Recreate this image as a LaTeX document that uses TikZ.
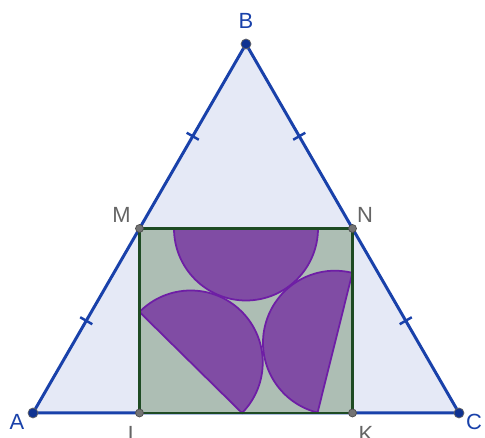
\documentclass[tikz,border=0pt]{standalone}
\usepackage{fontspec}
\setmainfont{Liberation Sans}
\usepackage{tikz}
\usetikzlibrary{calc}
\definecolor{cTriFill}{RGB}{229,233,246}
\definecolor{cTriEdge}{RGB}{25,65,170}
\definecolor{cPtBlue}{RGB}{15,50,145}
\definecolor{cLblGray}{RGB}{100,100,100}
\definecolor{cRectEdge}{RGB}{30,75,35}
\definecolor{cRectFill}{RGB}{173,190,180}
\definecolor{cPurple}{RGB}{128,76,164}
\definecolor{cPurpleEdge}{RGB}{110,30,165}
\tikzset{
	tri/.style   ={draw=cTriEdge, fill=cTriFill, line width=1.7pt, line join=round},
	eqmark/.style={draw=cTriEdge, line width=1.4pt},
	rectfill/.style={fill=cRectFill},
	rectedge/.style={draw=cRectEdge, line width=1.6pt},
	semi/.style  ={draw=cPurpleEdge, fill=cPurple, line width=1pt},
	% point and label styles
	ptblue/.style={circle, draw=black!60, fill=cPtBlue, minimum size=0.2cm, inner sep=0pt, line width=0.4pt},
	ptgray/.style={circle, draw=black!70, fill=black!55, minimum size=0.16cm, inner sep=0pt, line width=0.4pt},
	lblblue/.style={text=cTriEdge, font=\fontsize{12.5}{14}\selectfont},
	lblgray/.style={text=cLblGray, font=\fontsize{12.5}{14}\selectfont},
}
\begin{document}
\begin{tikzpicture}[x=0.02cm, y=0.02cm]
	\useasboundingbox (0,0) rectangle (485,438);
	\coordinate (A) at (33,25);
	\coordinate (B) at (246,394);
	\coordinate (C) at (459,25);
	\coordinate (M) at ($(A)!0.5!(B)$);
	\coordinate (N) at ($(C)!0.5!(B)$);
	\coordinate (L) at (M |- A);
	\coordinate (K) at (N |- C);
	% centres of the half discs
	\coordinate (O1) at ($(M)!0.5!(N)$);
	\coordinate (O2) at (190.75,75.5);
	\coordinate (O3) at (335,95.25);

	\draw[tri] (A) -- (B) -- (C) -- cycle;
	\foreach \p/\q in {A/M, M/B, B/N, N/C}
		\draw[eqmark] ($(\p)!0.5!(\q)!0.14cm!90:(\q)$) -- ($(\p)!0.5!(\q)!0.14cm!-90:(\q)$);

	\fill[rectfill] (L) rectangle (N);
	\draw[semi] ($(O1)+(180:72)$) arc[start angle=180, end angle=360, radius=72] -- cycle;
	\draw[semi] ($(O2)+(135.43:72)$) arc[start angle=135.43, end angle=-44.57, radius=72] -- cycle;
	\draw[semi] ($(O3)+(76:72)$) arc[start angle=76, end angle=256, radius=72] -- cycle;
	\draw[rectedge] (L) -- (M) -- (N) -- (K) -- cycle;

	\node[ptblue] (dotA) at (A) {};
	\node[ptblue] (dotB) at (B) {};
	\node[ptblue] (dotC) at (C) {};
	\node[ptgray] (dotM) at (M) {};
	\node[ptgray] (dotN) at (N) {};
	\node[ptgray] (dotL) at (L) {};
	\node[ptgray] (dotK) at (K) {};

	\node[lblblue] (labA) at (17,16) {A};
	\node[lblblue] (labB) at (246,417) {B};
	\node[lblblue] (labC) at (474,16) {C};
	\node[lblgray] (labM) at (121.5,223) {M};
	\node[lblgray] (labN) at (365,223) {N};
	\node[lblgray] (labL) at (134,4) {L};
	\node[lblgray] (labK) at (366,4) {K};
\end{tikzpicture}
\end{document}
